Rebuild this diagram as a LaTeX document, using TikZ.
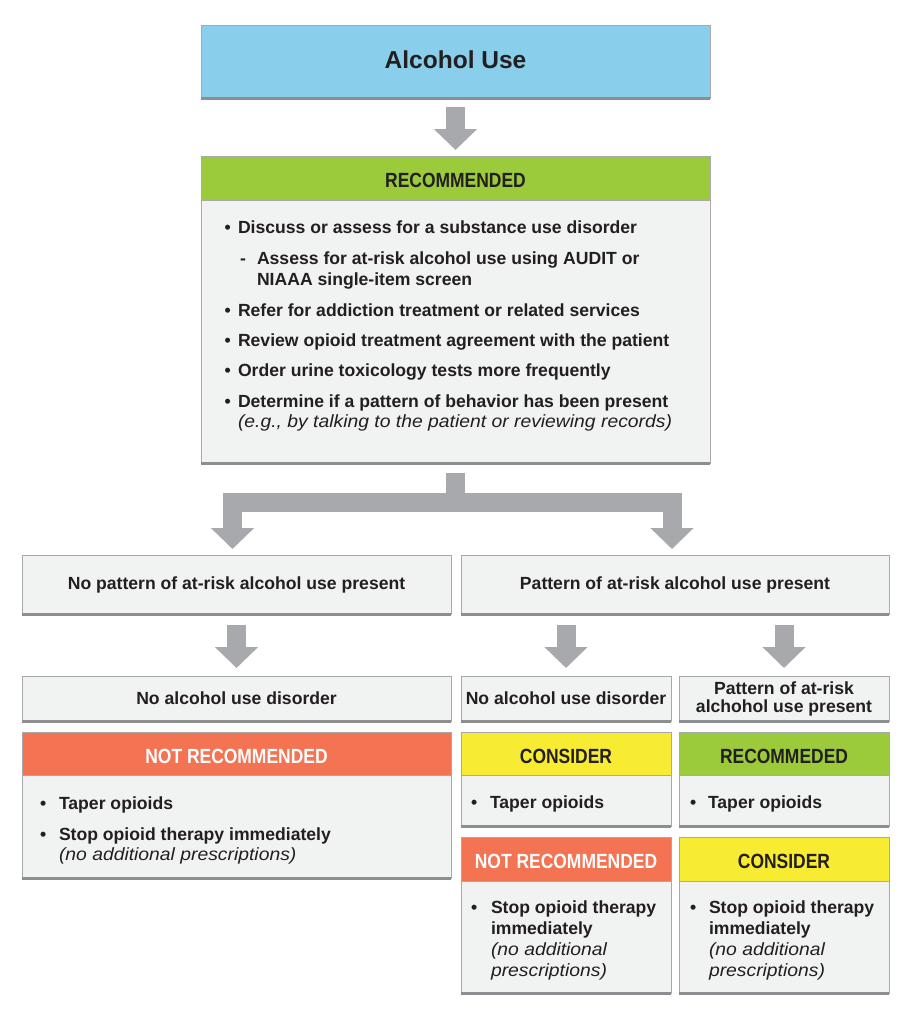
\documentclass[tikz,border=0pt]{standalone}
\usepackage{fontspec}
\setmainfont{Liberation Sans}
\newfontfamily\condfont{Liberation Sans}[FakeStretch=0.85]
\newfontfamily\widefont{Liberation Sans}[FakeStretch=1.09]
\usetikzlibrary{arrows.meta}
\definecolor{skyb}{RGB}{137,206,235}
\definecolor{hgreen}{RGB}{155,203,59}
\definecolor{horange}{RGB}{243,115,82}
\definecolor{hyellow}{RGB}{248,236,51}
\definecolor{boxgray}{RGB}{241,242,242}
\definecolor{bordgray}{RGB}{167,169,172}
\definecolor{edgegray}{RGB}{140,142,145}
\definecolor{arrgray}{RGB}{167,169,172}
\definecolor{ink}{RGB}{35,31,32}
\newcommand{\bodyf}{\fontsize{13.2pt}{15pt}\selectfont\bfseries}
\newcommand{\itf}{\fontsize{13.3pt}{15pt}\selectfont\widefont\itshape}
\newcommand{\hdrf}{\fontsize{15.4pt}{17pt}\selectfont\condfont\bfseries}
\newcommand{\mkbox}[6]{%
  \node[#2, minimum width={(#5-#3)*0.75pt}, minimum height={(#6-#4)*0.75pt}] (#1) at ({(#3+#5)/2},{(#4+#6)/2}) {};}
\begin{document}
\begin{tikzpicture}[x=0.75pt,y=-0.75pt,
  bx/.style={rectangle, draw=bordgray, line width=0.75pt, inner sep=0pt, outer sep=0pt},
  gbox/.style={bx, fill=boxgray},
  bluebox/.style={bx, fill=skyb},
  greenhd/.style={bx, fill=hgreen},
  orangehd/.style={bx, fill=horange},
  yellowhd/.style={bx, fill=hyellow},
  bottomedge/.style={draw=edgegray, line width=2.25pt},
  txt/.style={inner sep=0pt, outer sep=0pt, text=ink, font=\bodyf},
  itx/.style={inner sep=0pt, outer sep=0pt, text=ink, font=\itf},
  hdt/.style={inner sep=0pt, outer sep=0pt, text=ink, font=\hdrf, anchor=base},
  blockarrow/.style={draw=arrgray, line width=14.25pt, line join=miter, line cap=butt,
    -{Triangle[width=31.5pt,length=15.75pt]}}
]
\useasboundingbox[fill=white] (0,0) rectangle (916,1024);

% top box
\mkbox{top}{bluebox}{201}{26}{710}{98}
\draw[bottomedge] (top.south west) -- (top.south east);
\node[txt, anchor=base, font=\fontsize{18.4pt}{20pt}\selectfont\bfseries] (toptxt) at (455.5,69) {Alcohol Use};

% recommended box
\mkbox{rechd}{greenhd}{201}{156}{710}{200}
\node[hdt] (rechdt) at (455.5,187) {RECOMMENDED};
\mkbox{recbody}{gbox}{201}{200}{710}{463}
\draw[bottomedge] (recbody.south west) -- (recbody.south east);

\node[txt, anchor=base west] (b1) at (224.5,233) {•};
\node[txt, anchor=base west] (t1) at (238,233) {Discuss or assess for a substance use disorder};
\node[txt, anchor=base west] (d1) at (240,264) {-};
\node[txt, anchor=base west] (t2) at (257,264) {Assess for at-risk alcohol use using AUDIT or};
\node[txt, anchor=base west] (t2b) at (257,285) {NIAAA single-item screen};
\node[txt, anchor=base west] (b3) at (224.5,316) {•};
\node[txt, anchor=base west] (t3) at (238,316) {Refer for addiction treatment or related services};
\node[txt, anchor=base west] (b4) at (224.5,346) {•};
\node[txt, anchor=base west] (t4) at (238,346) {Review opioid treatment agreement with the patient};
\node[txt, anchor=base west] (b5) at (224.5,376) {•};
\node[txt, anchor=base west] (t5) at (238,376) {Order urine toxicology tests more frequently};
\node[txt, anchor=base west] (b6) at (224.5,407) {•};
\node[txt, anchor=base west] (t6) at (238,407) {Determine if a pattern of behavior has been present};
\node[itx, anchor=base west] (t6b) at (238,427) {(e.g., by talking to the patient or reviewing records)};

% row 2
\mkbox{nopat}{gbox}{22}{555}{451}{614}
\draw[bottomedge] (nopat.south west) -- (nopat.south east);
\node[txt, anchor=base] (nopatt) at (236.5,589) {No pattern of at-risk alcohol use present};
\mkbox{pat}{gbox}{461}{555}{889}{614}
\draw[bottomedge] (pat.south west) -- (pat.south east);
\node[txt, anchor=base] (patt) at (675,589) {Pattern of at-risk alcohol use present};

% row 3
\mkbox{nauda}{gbox}{22}{676}{451}{721}
\draw[bottomedge] (nauda.south west) -- (nauda.south east);
\node[txt, anchor=base] (naudat) at (236.5,704) {No alcohol use disorder};
\mkbox{naudb}{gbox}{461}{676}{671}{721}
\draw[bottomedge] (naudb.south west) -- (naudb.south east);
\node[txt, anchor=base] (naudbt) at (566,704) {No alcohol use disorder};
\mkbox{patc}{gbox}{679}{676}{889}{721}
\draw[bottomedge] (patc.south west) -- (patc.south east);
\node[txt, anchor=base] (patct1) at (784,694) {Pattern of at-risk};
\node[txt, anchor=base] (patct2) at (784,712) {alchohol use present};

% row 4 left
\mkbox{nrhdA}{orangehd}{22}{732}{451}{775}
\node[hdt, text=white] (nrhdAt) at (236.5,763) {NOT RECOMMENDED};
\mkbox{nrbA}{gbox}{22}{775}{451}{878}
\draw[bottomedge] (nrbA.south west) -- (nrbA.south east);
\node[txt, anchor=base west] (lb1) at (40,809) {•};
\node[txt, anchor=base west] (lt1) at (59,809) {Taper opioids};
\node[txt, anchor=base west] (lb2) at (40,840) {•};
\node[txt, anchor=base west] (lt2) at (59,840) {Stop opioid therapy immediately};
\node[itx, anchor=base west] (lt2b) at (59,860) {(no additional prescriptions)};

% row 4 middle
\mkbox{cohdB}{yellowhd}{461}{732}{671}{775}
\node[hdt] (cohdBt) at (566,763) {CONSIDER};
\mkbox{cobB}{gbox}{461}{775}{671}{826}
\draw[bottomedge] (cobB.south west) -- (cobB.south east);
\node[txt, anchor=base west] (mb1) at (471,808) {•};
\node[txt, anchor=base west] (mt1) at (490,808) {Taper opioids};

% row 4 right
\mkbox{rehdC}{greenhd}{679}{732}{889}{775}
\node[hdt] (rehdCt) at (784,763) {RECOMMEDED};
\mkbox{rebC}{gbox}{679}{775}{889}{826}
\draw[bottomedge] (rebC.south west) -- (rebC.south east);
\node[txt, anchor=base west] (rb1) at (690,808) {•};
\node[txt, anchor=base west] (rt1) at (708,808) {Taper opioids};

% row 5 middle
\mkbox{nrhdB}{orangehd}{461}{837}{671}{881}
\node[hdt, text=white] (nrhdBt) at (566,868) {NOT RECOMMENDED};
\mkbox{nrbB}{gbox}{461}{881}{671}{993}
\draw[bottomedge] (nrbB.south west) -- (nrbB.south east);
\node[txt, anchor=base west] (mb2) at (471,913) {•};
\node[txt, anchor=base west] (mt2) at (491,913) {Stop opioid therapy};
\node[txt, anchor=base west] (mt2b) at (491,934) {immediately};
\node[itx, anchor=base west] (mt2c) at (491,955) {(no additional};
\node[itx, anchor=base west] (mt2d) at (491,976) {prescriptions)};

% row 5 right
\mkbox{cohdC}{yellowhd}{679}{837}{889}{881}
\node[hdt] (cohdCt) at (784,868) {CONSIDER};
\mkbox{cobC}{gbox}{679}{881}{889}{993}
\draw[bottomedge] (cobC.south west) -- (cobC.south east);
\node[txt, anchor=base west] (rb2) at (690,913) {•};
\node[txt, anchor=base west] (rt2) at (709,913) {Stop opioid therapy};
\node[txt, anchor=base west] (rt2b) at (709,934) {immediately};
\node[itx, anchor=base west] (rt2c) at (709,955) {(no additional};
\node[itx, anchor=base west] (rt2d) at (709,976) {prescriptions)};

% arrows
\draw[blockarrow, shorten <=6.75pt, shorten >=4.5pt] (top.south) -- (rechd.north);
\coordinate (bj) at (455.5,502);
\draw[blockarrow, shorten <=7.5pt, shorten >=4.5pt] (recbody.south) -- (bj) -| ([xshift=-3pt]nopat.north);
\draw[blockarrow, shorten >=4.5pt] (bj) -| ([xshift=-2.25pt]pat.north);
\draw[blockarrow, shorten <=8.25pt, shorten >=6pt] (nopat.south) -- (nauda.north);
\draw[blockarrow, shorten <=8.25pt, shorten >=6pt] (pat.south -| naudb.north) -- (naudb.north);
\draw[blockarrow, shorten <=8.25pt, shorten >=6pt] (pat.south -| patc.north) -- (patc.north);
\end{tikzpicture}
\end{document}
